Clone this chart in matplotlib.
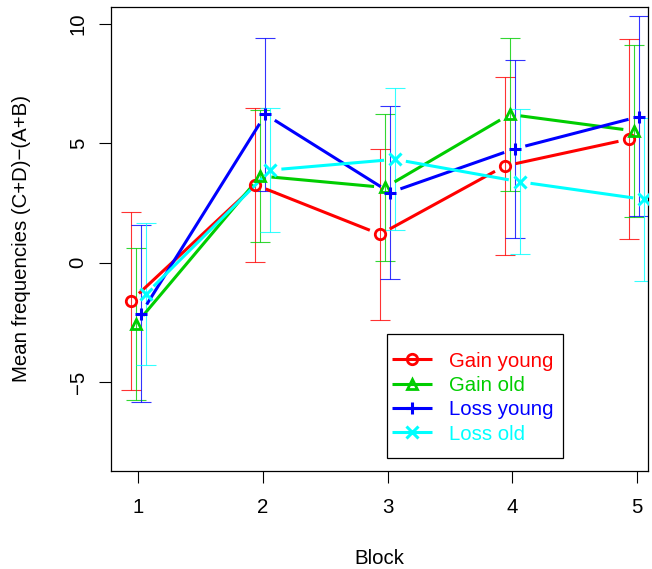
import numpy as np
import matplotlib
matplotlib.use("Agg")
import matplotlib.pyplot as plt
from matplotlib.lines import Line2D
from matplotlib.patches import Rectangle

plt.rcParams['font.family'] = ['Liberation Sans', 'DejaVu Sans']

blocks = [1, 2, 3, 4, 5]
tick_labels = ["1", "2", "3", "4", "5"]
series_names = ["Gain young", "Gain old", "Loss young", "Loss old"]

gain_young_mean = [-1.60, 3.26, 1.19, 4.05, 5.18]
gain_young_low = [-5.31, 0.04, -2.40, 0.32, 0.99]
gain_young_high = [2.11, 6.47, 4.78, 7.78, 9.36]

gain_old_mean = [-2.57, 3.63, 3.15, 6.21, 5.52]
gain_old_low = [-5.75, 0.86, 0.07, 3.00, 1.91]
gain_old_high = [0.61, 6.40, 6.24, 9.42, 9.11]

loss_young_mean = [-2.14, 6.21, 2.94, 4.77, 6.12]
loss_young_low = [-5.85, 2.99, -0.67, 1.03, 1.95]
loss_young_high = [1.57, 9.43, 6.56, 8.50, 10.32]

loss_old_mean = [-1.31, 3.88, 4.33, 3.39, 2.65]
loss_old_low = [-4.29, 1.28, 1.375, 0.36, -0.78]
loss_old_high = [1.68, 6.49, 7.30, 6.43, 6.08]

means = [gain_young_mean, gain_old_mean, loss_young_mean, loss_old_mean]
lows = [gain_young_low, gain_old_low, loss_young_low, loss_old_low]
highs = [gain_young_high, gain_old_high, loss_young_high, loss_old_high]

colors = ["#FF0000", "#00CD00", "#0000FF", "#00FFFF"]
markers = ["o", "^", "+", "x"]
offsets = [-0.06, -0.02, 0.02, 0.06]

W, H = 652, 569
fig = plt.figure(figsize=(W / 100, H / 100), dpi=100)
ax_l, ax_r, ax_t, ax_b = 110.7, 648.3, 6.7, 471.0
ax = fig.add_axes([ax_l / W, 1 - ax_b / H, (ax_r - ax_l) / W, (ax_b - ax_t) / H])
ax.set_xlim(0.778, 5.093)
ax.set_ylim(-8.72, 10.72)

gap = 11.0  # pixels
fs = 14.7


def marker_kw(c, mk):
    if mk in ("o", "^"):
        return dict(marker=mk, markersize=7.5, markerfacecolor='none',
                    markeredgecolor=c, markeredgewidth=2.0)
    return dict(marker=mk, markersize=9, markeredgecolor=c, markeredgewidth=2.2)


for m, lo, hi, c, mk, off in zip(means, lows, highs, colors, markers, offsets):
    x = np.array(blocks, dtype=float) + off
    m = np.array(m, dtype=float)
    pts = ax.transData.transform(np.column_stack([x, m]))
    inv = ax.transData.inverted()
    for i in range(len(pts) - 1):
        p0, p1 = pts[i], pts[i + 1]
        d = p1 - p0
        L = np.hypot(*d)
        if L <= 2 * gap:
            continue
        u = d / L
        a = inv.transform(p0 + u * gap)
        b = inv.transform(p1 - u * gap)
        ax.plot([a[0], b[0]], [a[1], b[1]], color=c, lw=2.2, solid_capstyle='butt', zorder=3)
    ax.plot(x, m, linestyle='none', zorder=4, **marker_kw(c, mk))
    lo = np.array(lo); hi = np.array(hi)
    ax.errorbar(x, m, yerr=[m - lo, hi - m], fmt='none', ecolor=c, elinewidth=0.8,
                capsize=7.2, capthick=0.8, alpha=0.8, zorder=2)

ax.set_xticks(blocks)
ax.set_xticklabels(tick_labels)
ax.set_yticks([-5, 0, 5, 10])
ax.set_yticklabels(["\u22125", "0", "5", "10"], rotation=90, va='center')
ax.tick_params(axis='both', length=8.6, width=0.8, labelsize=fs, direction='out')
ax.tick_params(axis='x', pad=11)
ax.tick_params(axis='y', pad=8)
for s in ax.spines.values():
    s.set_linewidth(0.9)
    s.set_color('black')

ax.set_xlabel("Block", fontsize=fs, va='center')
ax.xaxis.set_label_coords((379.5 - ax_l) / (ax_r - ax_l), (ax_b - 558) / (ax_b - ax_t))
ax.set_ylabel("Mean frequencies (C+D)\u2212(A+B)", fontsize=fs, va='center')
ax.yaxis.set_label_coords((22 - ax_l) / (ax_r - ax_l), 0.5)

# legend drawn in figure-pixel layout (converted to axes fraction)
def to_ax(px, py):
    return ((px - ax_l) / (ax_r - ax_l), (ax_b - py) / (ax_b - ax_t))

bx0, by0 = to_ax(387.3, 457.7)
bx1, by1 = to_ax(562.7, 334.3)
ax.add_patch(Rectangle((bx0, by0), bx1 - bx0, by1 - by0, transform=ax.transAxes,
                       facecolor='white', edgecolor='black', lw=0.9, zorder=5))
row_y = [359.3, 383.6, 407.9, 432.2]
for name, c, mk, ry in zip(series_names, colors, markers, row_y):
    x0, y0 = to_ax(391.7, ry)
    x1, _ = to_ax(431.7, ry)
    xm, _ = to_ax(411.7, ry)
    ax.add_line(Line2D([x0, x1], [y0, y0], color=c, lw=2.2, transform=ax.transAxes,
                       zorder=6, solid_capstyle='butt'))
    ax.add_line(Line2D([xm], [y0], linestyle='none', transform=ax.transAxes, zorder=7,
                       **marker_kw(c, mk)))
    tx, _ = to_ax(449.0, ry)
    ax.text(tx, y0, name, color=c, fontsize=fs, ha='left', va='center_baseline',
            transform=ax.transAxes, zorder=7)

fig.savefig("out.png", dpi=100)
